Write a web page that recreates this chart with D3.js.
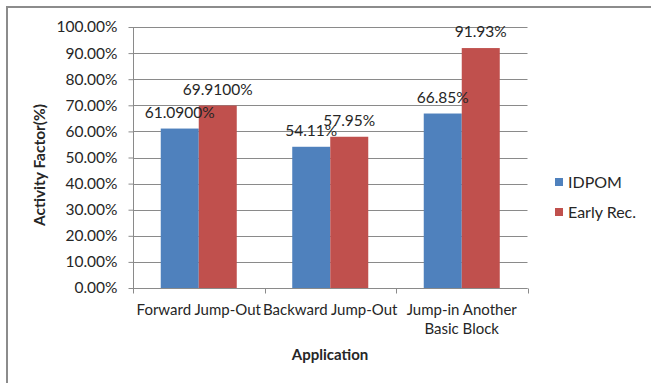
<!DOCTYPE html>
<html>
<head>
<meta charset="utf-8">
<script src="https://cdn.jsdelivr.net/npm/d3@7/dist/d3.min.js"></script>
<style>
  html, body { margin: 0; padding: 0; background: #fff; }
  svg { display: block; }
  text { font-family: Lato, "Open Sans", sans-serif; fill: #262626; }
</style>
</head>
<body>
<svg id="chart" width="651" height="383"></svg>
<script>
// Categories (multi-line labels split on "\n")
const categories = ["Forward Jump-Out", "Backward Jump-Out", "Jump-in Another\nBasic Block"];
const seriesNames = ["IDPOM", "Early Rec."];
const idpomValues = [61.09, 54.11, 66.85];
const earlyRecValues = [69.91, 57.95, 91.93];
// Data label text as printed above each bar
const idpomLabels = ["61.0900%", "54.11%", "66.85%"];
const earlyRecLabels = ["69.9100%", "57.95%", "91.93%"];
const yTicks = [0, 10, 20, 30, 40, 50, 60, 70, 80, 90, 100];
const colors = ["#4F81BD", "#C0504D"];

const svg = d3.select("#chart");

// outer chart frame
svg.append("rect")
  .attr("x", 7).attr("y", 7).attr("width", 700).attr("height", 450)
  .attr("fill", "#fff").attr("stroke", "#8c8c8c").attr("stroke-width", 2);

const plot = { left: 133, right: 527.5, top: 27, bottom: 288 };

const x = d3.scaleBand().domain(categories).range([plot.left, plot.right]).paddingInner(0).paddingOuter(0);
const inner = d3.scaleBand().domain(seriesNames).range([0, x.bandwidth()]).paddingInner(0).paddingOuter(0.73);
const y = d3.scaleLinear().domain([0, 100]).range([plot.bottom, plot.top]);

// gridlines
svg.append("g").selectAll("line").data(yTicks).join("line")
  .attr("x1", plot.left).attr("x2", plot.right)
  .attr("y1", d => Math.round(y(d)) + 0.5).attr("y2", d => Math.round(y(d)) + 0.5)
  .attr("stroke", "#8a8a8a").attr("stroke-width", 1);

// y axis
const yAxis = svg.append("g").attr("transform", `translate(${plot.left + 0.5},0)`)
  .call(d3.axisLeft(y).tickValues(yTicks).tickSize(5).tickPadding(11)
    .tickFormat(d => d.toFixed(2) + "%"));
yAxis.select(".domain").attr("stroke", "#8a8a8a").attr("d", `M0,${plot.top}V${plot.bottom}`);
yAxis.selectAll(".tick line").attr("stroke", "#8a8a8a");
yAxis.selectAll(".tick text").attr("font-family", "Lato, sans-serif").attr("font-size", 15.5).attr("fill", "#262626");

// bars
const rows = categories.map((c, i) => ({ cat: c, vals: [idpomValues[i], earlyRecValues[i]], labels: [idpomLabels[i], earlyRecLabels[i]] }));
const groups = svg.append("g").selectAll("g").data(rows).join("g")
  .attr("transform", d => `translate(${x(d.cat)},0)`);
groups.selectAll("rect").data(d => d.vals.map((v, j) => ({ v, j, name: seriesNames[j] }))).join("rect")
  .attr("x", d => inner(d.name)).attr("width", inner.bandwidth())
  .attr("y", d => y(d.v)).attr("height", d => y(0) - y(d.v))
  .attr("fill", d => colors[d.j]);

// x axis
const xAxis = svg.append("g").attr("transform", `translate(0,${plot.bottom + 0.5})`);
xAxis.append("line").attr("x1", plot.left).attr("x2", plot.right).attr("stroke", "#8a8a8a");
const boundaries = [plot.left, ...categories.map(c => x(c) + x.bandwidth())];
xAxis.selectAll("line.tick").data(boundaries).join("line").attr("class", "tick")
  .attr("x1", d => Math.round(d) + 0.5).attr("x2", d => Math.round(d) + 0.5)
  .attr("y1", 0).attr("y2", 5).attr("stroke", "#8a8a8a");
categories.forEach(c => {
  const lines = c.split("\n");
  const t = svg.append("text").attr("text-anchor", "middle").attr("font-size", 15)
    .attr("x", x(c) + x.bandwidth() / 2).attr("y", 315);
  lines.forEach((ln, k) => t.append("tspan").attr("x", x(c) + x.bandwidth() / 2).attr("dy", k === 0 ? 0 : 19).text(ln));
});

// data labels
groups.selectAll("text.lbl").data(d => d.labels.map((l, j) => ({ l, j, v: d.vals[j], name: seriesNames[j] }))).join("text")
  .attr("class", "lbl").attr("text-anchor", "middle").attr("font-size", 15.5)
  .attr("x", d => inner(d.name) + inner.bandwidth() / 2)
  .attr("y", d => y(d.v) - 11)
  .text(d => d.l);

// axis titles
svg.append("text").attr("text-anchor", "middle").attr("font-weight", "bold").attr("font-size", 15)
  .attr("x", 330).attr("y", 360).text("Application");
svg.append("text").attr("text-anchor", "middle").attr("font-weight", "bold").attr("font-size", 15.5)
  .attr("transform", "translate(45,165) rotate(-90)").text("Activity Factor(%)");

// legend
const legend = svg.append("g").attr("transform", "translate(555,178)");
seriesNames.forEach((n, i) => {
  const g = legend.append("g").attr("transform", `translate(0,${i * 30})`);
  g.append("rect").attr("width", 8).attr("height", 8).attr("fill", colors[i]);
  g.append("text").attr("x", 13).attr("y", 9.5).attr("font-size", 16).text(n);
});
</script>
</body>
</html>
